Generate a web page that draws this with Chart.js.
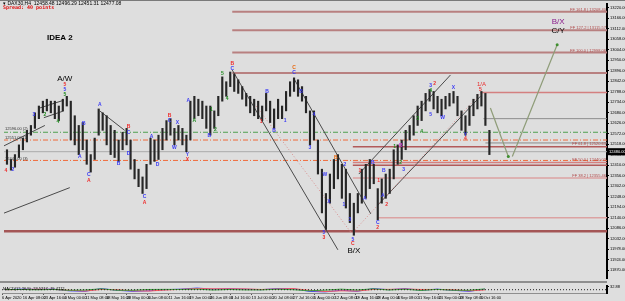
<!DOCTYPE html>
<html>
<head>
<meta charset="utf-8">
<script src="https://cdn.jsdelivr.net/npm/chart.js@4.4.1/dist/chart.umd.min.js"></script>
<style>
html,body{margin:0;padding:0;background:#dedede;}
#wrap{position:relative;width:625px;height:301px;overflow:hidden;background:#dedede;}
#main{position:absolute;left:0;top:0;}
#topline{position:absolute;left:0;top:0;width:625px;height:1px;background:#7a7a7a;}
#sep{position:absolute;left:0;top:281px;width:607px;height:2px;background:#8e8e8e;}
#osc{position:absolute;left:0;top:283px;}
</style>
</head>
<body>
<div id="wrap">
  <canvas id="main" width="625" height="282"></canvas>
  <div id="topline"></div>
  <div id="sep"></div>
  <canvas id="osc" width="625" height="18"></canvas>
</div>
<script>
// H4 bars, high / low per bar
const highs = [12490,12440,12465,12515,12550,12590,12615,12680,12715,12740,12750,12740,12740,12715,12750,12765,
  12740,12665,12615,12630,12540,12465,12550,12700,12680,12665,12615,12590,12540,12580,12600,12540,12440,12390,
  12350,12415,12550,12540,12565,12600,12640,12650,12600,12615,12600,12565,12740,12765,12750,12740,12715,12715,
  12690,12765,12865,12840,12890,12880,12850,12815,12780,12765,12750,12740,12715,12780,12740,12700,12750,12715,
  12790,12840,12860,12850,12815,12765,12690,12690,12540,12390,12265,12365,12440,12465,12415,12390,12265,12215,
  12265,12390,12415,12440,12415,12290,12340,12365,12390,12490,12515,12540,12590,12615,12665,12715,12740,12780,
  12800,12790,12765,12750,12765,12780,12790,12765,12690,12665,12715,12750,12775,12790,12780,12590];
const lows = [12415,12385,12400,12450,12490,12530,12565,12600,12650,12680,12690,12680,12650,12640,12690,12715,
  12540,12515,12465,12490,12415,12375,12440,12565,12590,12515,12465,12450,12430,12490,12515,12390,12340,12300,
  12265,12290,12415,12430,12440,12490,12540,12565,12515,12540,12515,12480,12540,12650,12665,12650,12600,12565,
  12600,12665,12740,12765,12815,12790,12780,12750,12715,12680,12665,12650,12640,12690,12630,12600,12650,12650,
  12690,12765,12790,12765,12740,12680,12515,12540,12365,12165,12080,12215,12290,12340,12240,12190,12115,12050,
  12165,12215,12240,12290,12315,12130,12215,12240,12265,12340,12415,12440,12490,12540,12565,12615,12640,12690,
  12740,12700,12680,12665,12700,12715,12730,12665,12590,12565,12615,12665,12700,12715,12615,12465];

const priceTicks = [13220,13166,13112,13058,13004,12950,12896,12842,12788,12734,12680,12626,12572,12518,12464,
  12410,12356,12302,12248,12194,12140,12086,12032,11978,11924,11870];
const lastPrice = 12480;

// horizontal levels: price, first bar index, style key
const levelPrice = [13200,13105,12990,12885,12785,12650,12580,12540,12525,12505,12480,12435,12425,12410,12345,12140,12070];
const levelFrom  = [56.5,56.5,56.5,56.5,118.75,119.5,-1,-1,120,86.75,-1,-1,86.75,86.75,86.75,93,-1];
const levelKind  = ['fib','fib','fib','fib','red','grey','green','orange','grey','dred','bid','orange','red','dred','pink','pink','thick'];

// trend lines [x1, p1, x2, p2, kind]
const trendLines = [
  [-1.25,12505,9.5,12615,'dark'],
  [-1.25,12160,15.75,12295,'dark'],
  [8.25,12705,14.25,12745,'dark'],
  [9.25,12655,14.25,12690,'dark'],
  [23.25,12690,29.5,12590,'dark'],
  [56.5,12900,83,11975,'dark'],
  [72,12855,91.25,12160,'dark'],
  [62.5,12715,86.25,12065,'dots'],
  [86.75,12065,118.75,12780,'dots'],
  [88.25,12365,111.25,12875,'dark'],
  [93,12205,118.75,12765,'dark'],
  [121.25,12705,125.75,12455,'proj'],
  [126.75,12455,138,13030,'proj']
];

// wave counts [x, price, text, colour]
const waveLabels = [
  [-0.25,12385,'4','r'],[1.5,12390,'2','b'],[6.75,12670,'3','b'],[9.5,12670,'2','g'],[12.75,12635,'4','g'],
  [14.5,12825,'5','r'],[14.5,12800,'5','b'],[14.5,12775,'5','g'],
  [18.25,12455,'A','b'],[19.25,12625,'B','b'],[20.5,12360,'C','b'],[20.5,12330,'A','r'],
  [23.25,12720,'A','b'],[28,12420,'B','b'],[30.5,12610,'B','r'],[30.5,12580,'C','b'],[30.5,12470,'D','b'],
  [34.5,12250,'C','b'],[34.5,12220,'A','r'],[36.25,12555,'A','b'],[37.75,12415,'D','b'],
  [40.75,12665,'B','r'],[40.75,12640,'C','b'],[42,12500,'W','b'],[42.75,12630,'X','b'],
  [45.25,12465,'Y','b'],[45.25,12440,'X','r'],[45.5,12745,'A','b'],[47,12640,'A','g'],
  [51.25,12695,'1','g'],[52.25,12595,'2','g'],[50.75,12565,'B','b'],[54,12880,'5','g'],[55.25,12755,'4','g'],
  [56.5,12935,'B','r'],[56.5,12905,'C','b'],[65.25,12790,'B','b'],[63.75,12635,'1','r'],[67,12590,'B','b'],
  [72,12915,'C','o'],[72,12885,'C','b'],[69.75,12640,'1','b'],[73.75,12790,'B','b'],
  [77,12670,'4','b'],[76,12500,'3','b'],[79.75,12360,'W','b'],[80.75,12225,'X','b'],
  [79.5,12065,'5','b'],[79.5,12040,'3','r'],[82.5,12450,'B','o'],[84.75,12415,'2','b'],
  [84.5,12210,'1','b'],[86,12130,'3','b'],[86.75,12030,'5','b'],[86.75,12005,'C','r'],
  [88.5,12380,'1','r'],[89.75,12240,'A','b'],[91.75,12425,'B','b'],[94.5,12380,'B','b'],
  [93.25,12330,'1','r'],[94.25,12255,'A','b'],[93,12115,'C','b'],[93,12090,'2','r'],[95.25,12210,'2','r'],
  [97.25,12505,'1','g'],[98.75,12510,'B','m'],[98.75,12425,'2','g'],[99.5,12390,'3','b'],
  [103,12650,'3','g'],[104,12585,'4','g'],[106.25,12820,'3','b'],[107.25,12830,'2','r'],
  [106.25,12795,'4','g'],[106.25,12670,'5','b'],[109.25,12655,'W','b'],[112,12810,'X','b'],
  [115,12570,'Y','b'],[115,12545,'4','r'],[118.75,12800,'5','r']
];
const waveColors = {r:'#ee2c2c',b:'#3b3bf5',g:'#1f8a1f',o:'#e8690f',m:'#d23cd2'};

// large annotations [x, price, text, colour, size]
const bigLabels = [
  [13.25,13065,'IDEA 2','#000','bold 8px'],
  [14.5,12855,'A/W','#000','8px'],
  [87,11972,'B/X','#000','8px'],
  [138.25,13148,'B/X','#8a1a8a','8px'],
  [138.25,13102,'C/Y','#000','8px'],
  [119,12827,'1/A','#e83030','6px']
];

// fibo texts on the right of levels
const fibPrice = [13208,13115,12998,12520,12440,12355];
const fibText = ['FF 161.8 | 13208.40','FF 127.2 | 13115.57','FF 100.0 | 12998.06','FF 61.8 | 12520.63',
  'FF 50.0 | 12440.03','FF 38.2 | 12355.46'];
const leftPrice = [12596,12551,12445];
const leftText = ['12596.00 (2)','12551.00 (1)','12445.00 (3)'];

// oscillator window
const oscX = [0,4,8,12,16,20,24,28,32,36,40,44,48,52,56,60,64,68,72,76,80,84,88,92,96,100,104,108,112,116,120];
const oscMain = [0,0.5,0.3,0.5,-1,-1.5,1,-0.5,-1.5,-1,0,0.5,1.5,0.5,1,0.5,0,1,1,-1.5,-2,-0.5,-1.5,1,0,1,-0.5,0.5,-0.5,-1.5,0.5];
const oscSignal = [0,0.2,0.4,0.3,-0.5,-1.2,0.2,0,-1,-1.2,-0.3,0.3,1,0.8,0.8,0.7,0.2,0.6,1,-0.5,-1.6,-1,-1.2,0.2,0.3,0.6,0.2,0.2,0,-1,-0.2];
const oscHist = [0,0.2,-0.1,0.2,-0.5,-0.3,0.8,-0.5,-0.5,0.2,0.3,0.2,0.5,-0.3,0.2,-0.2,-0.2,0.4,0,-1,-0.4,0.5,-0.3,0.8,-0.3,0.4,-0.7,0.3,-0.5,-0.5,0.7];

const dateTicks = [-0.75,4.45,9.65,14.85,20.05,25.25,30.45,35.65,40.85,46.05,51.25,56.45,61.65,66.85,72.05,77.25,
  82.45,87.65,92.85,98.05,103.25,108.45,113.65,118.85];
const dateLabels = ['6 Apr 2020','16 Apr 08:00','23 Apr 16:00','4 May 00:00','11 May 08:00','18 May 16:00',
  '28 May 00:00','4 Jun 08:00','11 Jun 16:00','19 Jun 00:00','26 Jun 08:00','3 Jul 16:00','13 Jul 00:00',
  '20 Jul 08:00','27 Jul 16:00','5 Aug 00:00','12 Aug 08:00','19 Aug 16:00','28 Aug 00:00','4 Sep 08:00',
  '11 Sep 16:00','21 Sep 00:00','28 Sep 08:00','5 Oct 16:00'];

const X_MIN = -0.75, X_MAX = 150.5;
const FONT = '"Liberation Sans", Arial, sans-serif';

const levelStyle = {
  fib:{color:'#b88080',width:2,dash:[]},
  red:{color:'#d48080',width:1.5,dash:[]},
  grey:{color:'#8c8c8c',width:1,dash:[]},
  green:{color:'#4fa04f',width:1,dash:[5,2,1,2]},
  orange:{color:'#f06a3a',width:1,dash:[5,2,1,2]},
  dred:{color:'#b25a5a',width:1.5,dash:[]},
  bid:{color:'#ababab',width:1,dash:[]},
  pink:{color:'#dba2a2',width:1.5,dash:[]},
  thick:{color:'#a45656',width:2.5,dash:[]}
};
const trendStyle = {
  dark:{color:'#4a4a4a',width:1,dash:[]},
  dots:{color:'#d99090',width:1,dash:[1,2]},
  proj:{color:'#8e9c78',width:1.2,dash:[]}
};

function buildDatasets(){
  const sets = [{
    type:'bar',
    data: highs.map((h,i)=>({x:i,y:[lows[i],h]})),
    backgroundColor:'#262626',
    barThickness:1.5,
    order:0
  }];
  levelPrice.forEach((p,i)=>{
    const st = levelStyle[levelKind[i]];
    sets.push({type:'line',data:[{x:levelFrom[i],y:p},{x:X_MAX,y:p}],borderColor:st.color,borderWidth:st.width,
      borderDash:st.dash,pointRadius:0,order:2});
  });
  trendLines.forEach(t=>{
    const st = trendStyle[t[4]];
    sets.push({type:'line',data:[{x:t[0],y:t[1]},{x:t[2],y:t[3]}],borderColor:st.color,borderWidth:st.width,
      borderDash:st.dash,pointRadius:t[4]==='proj'?[0,1.5]:0,pointBackgroundColor:'#3f8f2f',pointBorderWidth:0,order:1});
  });
  return sets;
}

const notes = {
  id:'notes',
  afterDatasetsDraw(chart){
    const {ctx, scales:{x,y}} = chart;
    ctx.save();
    ctx.textAlign = 'center';
    ctx.textBaseline = 'middle';
    waveLabels.forEach(([v,p,t,c])=>{
      ctx.fillStyle = waveColors[c];
      ctx.font = 'bold 5px ' + FONT;
      ctx.fillText(t, x.getPixelForValue(v), y.getPixelForValue(p));
    });
    bigLabels.forEach(([v,p,t,c,f])=>{
      ctx.fillStyle = c;
      ctx.font = f + ' ' + FONT;
      ctx.fillText(t, x.getPixelForValue(v), y.getPixelForValue(p));
    });
    ctx.textAlign = 'right';
    ctx.font = '4px ' + FONT;
    ctx.fillStyle = '#b04848';
    fibPrice.forEach((p,i)=>ctx.fillText(fibText[i], chart.chartArea.right - 1, y.getPixelForValue(p)));
    ctx.textAlign = 'left';
    ctx.fillStyle = '#333';
    leftPrice.forEach((p,i)=>ctx.fillText(leftText[i], chart.chartArea.left + 1, y.getPixelForValue(p)));

    // header
    ctx.fillStyle = '#000';
    ctx.font = '5px ' + FONT;
    ctx.fillText('\u25BE DAX30,H4  12458.48 12496.29 12451.31 12477.08', 3, 4);
    ctx.fillStyle = '#e01010';
    ctx.font = 'bold 5px "DejaVu Sans Mono", monospace';
    ctx.fillText('Spread: 40 points', 3, 8);

    // current price box
    const py = y.getPixelForValue(lastPrice);
    ctx.fillStyle = '#000';
    ctx.fillRect(chart.chartArea.right + 1, py - 3.5, 18, 7);
    ctx.fillStyle = '#fff';
    ctx.font = '4px ' + FONT;
    ctx.fillText(lastPrice.toFixed(2), chart.chartArea.right + 2, py);
    ctx.restore();
  }
};

new Chart(document.getElementById('main'),{
  type:'bar',
  data:{datasets:buildDatasets()},
  options:{
    responsive:false,
    animation:false,
    layout:{padding:{left:2,top:0,right:0,bottom:0}},
    plugins:{legend:{display:false},tooltip:{enabled:false}},
    scales:{
      x:{type:'linear',min:X_MIN,max:X_MAX,offset:false,display:false},
      y:{
        position:'right',min:11830,max:13240,
        afterBuildTicks:s=>{s.ticks = priceTicks.map(v=>({value:v}));},
        afterFit:s=>{s.width = 18;},
        grid:{drawOnChartArea:false,tickLength:2,color:'#000'},
        border:{color:'#000',width:2},
        ticks:{font:{size:4,family:FONT},color:'#000',padding:1,callback:v=>v.toFixed(2)}
      }
    }
  },
  plugins:[notes]
});

const oscNotes = {
  id:'oscNotes',
  afterDatasetsDraw(chart){
    const ctx = chart.ctx;
    ctx.save();
    ctx.font = '4px ' + FONT;
    ctx.fillStyle = '#000';
    ctx.textBaseline = 'middle';
    ctx.fillText('MACD(12,26,9) -23.5217 -19.4712', 3, chart.chartArea.top + 2);
    ctx.restore();
  }
};

new Chart(document.getElementById('osc'),{
  type:'line',
  data:{datasets:[
    {data:[{x:X_MIN,y:0},{x:X_MAX,y:0}],borderColor:'#222',borderWidth:1,borderDash:[1,2],pointRadius:0},
    {data:oscX.map((v,i)=>({x:v,y:oscHist[i]})),borderColor:'#3f9f3f',borderWidth:1,pointRadius:0},
    {data:oscX.map((v,i)=>({x:v,y:oscSignal[i]})),borderColor:'#ff5a5a',borderWidth:1,pointRadius:0},
    {data:oscX.map((v,i)=>({x:v,y:oscMain[i]})),borderColor:'#4646ff',borderWidth:1,pointRadius:0}
  ]},
  options:{
    responsive:false,
    animation:false,
    layout:{padding:{left:2,top:1,right:0,bottom:0}},
    plugins:{legend:{display:false},tooltip:{enabled:false}},
    scales:{
      x:{
        type:'linear',min:X_MIN,max:X_MAX,offset:false,
        afterBuildTicks:s=>{s.ticks = dateTicks.map(v=>({value:v}));},
        afterFit:s=>{s.height = 8;},
        grid:{drawOnChartArea:false,tickLength:2,color:'#555'},
        border:{color:'#8e8e8e',width:1},
        ticks:{font:{size:4,family:FONT},color:'#000',padding:0,align:'start',maxRotation:0,autoSkip:false,
          callback:(v,i)=>dateLabels[i]}
      },
      y:{
        position:'right',min:-3,max:3,
        afterBuildTicks:s=>{s.ticks = [{value:2.5},{value:-2.5}];},
        afterFit:s=>{s.width = 18;},
        grid:{drawOnChartArea:false,tickLength:2,color:'#000'},
        border:{color:'#000',width:2},
        ticks:{font:{size:4,family:FONT},color:'#000',padding:1,callback:v=>v>0?'32.88':'-25.11'}
      }
    }
  },
  plugins:[oscNotes]
});
</script>
</body>
</html>
